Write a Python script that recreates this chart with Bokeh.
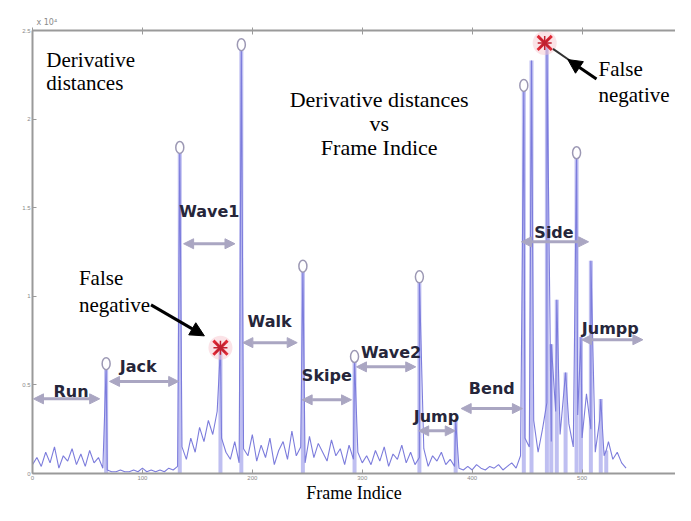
from bokeh.plotting import figure
from bokeh.models import Range1d, LinearAxis, Arrow, NormalHead, FixedTicker
from bokeh.embed import file_html
from bokeh.resources import INLINE
from bokeh.core.properties import value

# ---------------- data (values in units of 10^4) ----------------
noise_step = 4
noise_values = [
    0.05, 0.09, 0.04, 0.12, 0.06, 0.15, 0.03, 0.10, 0.07, 0.14, 0.05, 0.11, 0.04, 0.13, 0.06, 0.09, 0.03,
    0.02, 0.01, 0.01, 0.02, 0.01, 0.01, 0.02, 0.01, 0.03, 0.01, 0.02, 0.01, 0.02, 0.01, 0.03, 0.02, 0.04,
    0.15, 0.08, 0.20, 0.12, 0.26, 0.18, 0.30, 0.22, 0.35,
    0.20, 0.12, 0.08, 0.18, 0.06, 0.14, 0.10, 0.22, 0.07, 0.16, 0.09, 0.20, 0.05, 0.13, 0.18, 0.08, 0.24,
    0.10, 0.15, 0.06, 0.21, 0.09, 0.17, 0.12, 0.07, 0.19, 0.10, 0.14, 0.05, 0.16, 0.08, 0.12, 0.06,
    0.10, 0.05, 0.13, 0.07, 0.15, 0.04, 0.11, 0.08, 0.16, 0.06, 0.12, 0.05, 0.09, 0.14, 0.04, 0.10,
    0.07, 0.12, 0.05, 0.08, 0.04,
    0.03, 0.02, 0.04, 0.02, 0.05, 0.03, 0.02, 0.04, 0.03, 0.05, 0.02, 0.04, 0.06, 0.03,
    0.10, 0.20, 0.15, 0.30, 0.12, 0.25, 0.40, 0.18, 0.35, 0.22, 0.50, 0.28, 0.15, 0.33, 0.20, 0.45,
    0.25, 0.12, 0.30, 0.10, 0.18, 0.08,
    0.12, 0.06, 0.03,
]
spike_frames = [67, 134, 171, 190, 246, 293, 352, 385, 447, 454, 468, 472, 477, 485, 495, 499, 508, 517, 522]
spike_values = [0.60, 1.82, 0.71, 2.40, 1.15, 0.64, 1.09, 0.30, 2.17, 2.33, 2.43, 0.73, 0.98, 0.57, 1.79, 0.77, 1.20, 0.42, 0.13]

peak_frames = [67, 134, 190, 246, 293, 352, 447, 495]
peak_values = [0.60, 1.82, 2.40, 1.15, 0.64, 1.09, 2.17, 1.79]

missed_frames = [171, 466]
missed_values = [0.71, 2.43]

x_ticks = [0, 100, 200, 300, 400, 500]
y_ticks = [0, 0.5, 1, 1.5, 2, 2.5]

activities = ["Run", "Jack", "Wave1", "Walk", "Skipe", "Wave2", "Jump", "Bend", "Side", "Jumpp"]

# ---------------- build series ----------------
noise_frames = [i * noise_step for i in range(len(noise_values))]
pts = sorted(list(zip(noise_frames, noise_values)) + list(zip(spike_frames, spike_values)))
series_x = [a for a, b in pts]
series_y = [b for a, b in pts]

# ---------------- figure ----------------
p = figure(width=675, height=505, output_backend="svg", toolbar_location=None,
           x_range=Range1d(0, 585), y_range=Range1d(0, 2.5),
           min_border_left=32, min_border_right=0, min_border_top=30, min_border_bottom=30,
           title="x 10\u2074")
p.title.text_font = "DejaVu Sans"
p.title.text_font_size = "8px"
p.title.text_font_style = "normal"
p.title.text_color = "#8a8a8a"
p.title.align = "left"
p.title.offset = 4
p.title.standoff = 2
p.outline_line_color = None
p.xgrid.grid_line_color = None
p.ygrid.grid_line_color = None
p.background_fill_color = "white"

for ax in (p.xaxis[0], p.yaxis[0]):
    ax.axis_line_color = "#9a9a9a"
    ax.axis_line_width = 2
    ax.major_tick_line_color = "#9a9a9a"
    ax.major_tick_in = 4
    ax.major_tick_out = 0
    ax.minor_tick_line_color = None
    ax.major_label_text_font_size = "6px"
    ax.major_label_text_color = "#8a8a8a"
    ax.major_label_standoff = 2
p.xaxis[0].ticker = FixedTicker(ticks=x_ticks)
p.yaxis[0].ticker = FixedTicker(ticks=y_ticks)
p.xaxis[0].axis_label = "Frame Indice"
p.xaxis[0].axis_label_text_font = "Liberation Serif"
p.xaxis[0].axis_label_text_font_style = "normal"
p.xaxis[0].axis_label_text_font_size = "18px"
p.xaxis[0].axis_label_text_color = "black"
p.xaxis[0].axis_label_standoff = 0

top = LinearAxis(ticker=FixedTicker(ticks=x_ticks))
top.axis_line_color = "#9a9a9a"
top.axis_line_width = 2
top.major_tick_line_color = "#9a9a9a"
top.major_tick_in = 4
top.major_tick_out = 3
top.minor_tick_line_color = None
top.major_label_text_font_size = "0px"
top.major_label_text_color = None
top.major_label_standoff = 0
p.add_layout(top, "above")

# placement helpers: reference-image pixels -> data coordinates
def X(px):
    return (px - 32) / (651 / 585)

def Y(py):
    return (487 - py) / 182.8

# ---------------- signal ----------------
p.segment(x0=spike_frames, y0=[0] * len(spike_frames), x1=spike_frames, y1=spike_values,
          line_color="#a9a9ec", line_width=4, line_alpha=0.75)
p.line(series_x, series_y, line_color="#7c7cdc", line_width=1.1)

p.ellipse(x=peak_frames, y=[v + 0.02 for v in peak_values], width=8, height=12,
          width_units="screen", height_units="screen",
          fill_color="white", line_color="#9c98b4", line_width=1.5)

p.scatter(missed_frames, missed_values, marker="circle", size=24,
          fill_color="#f7c8d0", fill_alpha=0.5, line_color=None)
p.scatter(missed_frames, missed_values, marker="x", size=20,
          line_color="#e02a36", line_width=3)
p.scatter(missed_frames, missed_values, marker="asterisk", size=14,
          line_color="#c02030", line_width=1.5)

# ---------------- activity arrows and labels ----------------
act_label_px = [(71, 402), (139, 377), (211, 217), (272, 330), (330, 386),
                (395, 362), (441, 428), (497, 399), (560, 238), (617, 337)]
act_arrow_px = [(410, 33, 100), (392, 110, 180), (250, 185, 237), (352, 245, 300),
                (411, 305, 355), (377, 360, 420), (443, 423, 460), (420, 466, 528),
                (248, 527, 595), (349, 588, 650)]
arrow_col = "#aaa6c2"
for (yy, xa, xb) in act_arrow_px:
    p.add_layout(Arrow(x_start=X(xa), y_start=Y(yy), x_end=X(xb), y_end=Y(yy),
                       line_color=arrow_col, line_width=3,
                       start=NormalHead(size=10, fill_color=arrow_col, line_color=arrow_col),
                       end=NormalHead(size=10, fill_color=arrow_col, line_color=arrow_col)))

p.text(x=[X(a) for a, b in act_label_px], y=[Y(b) for a, b in act_label_px], text=activities,
       text_font=value("DejaVu Sans"), text_font_style="bold", text_font_size="16px",
       text_color="#26263a", text_align="center", text_baseline="middle")

# ---------------- serif annotations ----------------
serif = value("Liberation Serif")
p.text(x=[X(46), X(46)], y=[Y(60), Y(84)], text=["Derivative", "distances"],
       text_font=serif, text_font_size="21px", text_color="black",
       text_align="left", text_baseline="middle")
p.text(x=[X(383)] * 3, y=[Y(101), Y(126), Y(151)],
       text=["Derivative distances", "vs", "Frame Indice"],
       text_font=serif, text_font_size="22px", text_color="black",
       text_align="center", text_baseline="middle")
p.text(x=[X(79), X(79)], y=[Y(285), Y(313)], text=["False", "negative"],
       text_font=serif, text_font_size="21px", text_color="black",
       text_align="left", text_baseline="middle")
p.text(x=[X(605), X(605)], y=[Y(70), Y(97)], text=["False", "negative"],
       text_font=serif, text_font_size="21px", text_color="black",
       text_align="left", text_baseline="middle")

p.add_layout(Arrow(x_start=X(152), y_start=Y(313), x_end=X(206), y_end=Y(345),
                   line_color="black", line_width=3,
                   end=NormalHead(size=14, fill_color="black", line_color="black")))
p.add_layout(Arrow(x_start=X(603), y_start=Y(80), x_end=X(574), y_end=Y(60),
                   line_color="black", line_width=3,
                   end=NormalHead(size=14, fill_color="black", line_color="black")))
p.segment(x0=[X(576)], y0=[Y(61)], x1=[X(559)], y1=[Y(49)], line_color="#333333", line_width=2)

open("out.html", "w").write(file_html(p, INLINE))
